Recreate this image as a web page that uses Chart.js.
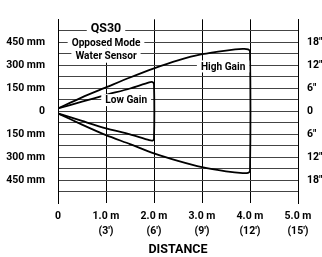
<!DOCTYPE html>
<html>
<head>
<meta charset="utf-8">
<script src="https://cdn.jsdelivr.net/npm/chart.js@4"></script>
<style>
  html, body { margin: 0; padding: 0; background: #fff; }
  canvas { display: block; }
</style>
</head>
<body>
<canvas id="myChart" width="322" height="257"></canvas>
<script>
const ctx = document.getElementById("myChart");

// beam pattern, distance in m, half-width in mm
const highGainX = [0, 0.5, 1.0, 1.5, 2.0, 2.5, 3.0, 3.5, 3.85, 3.96, 4.0, 4.0, 3.96, 3.85, 3.5, 3.0, 2.5, 2.0, 1.5, 1.0, 0.5, 0];
const highGainY = [18, 90, 155, 220, 280, 332, 372, 396, 407, 404, 390, -390, -403, -405, -393, -366, -325, -276, -215, -157, -88, -15];
const lowGainX = [0, 0.5, 1.0, 1.5, 1.9, 1.97, 2.0, 2.0, 1.97, 1.9, 1.5, 1.0, 0.5, 0];
const lowGainY = [18, 62, 106, 148, 188, 190, 178, -180, -192, -190, -152, -112, -64, -15];

const xTickLabels = [["0", ""], ["1.0 m", "(3')"], ["2.0 m", "(6')"], ["3.0 m", "(9')"], ["4.0 m", "(12')"], ["5.0 m", "(15')"]];
const yTickValues = [450, 300, 150, 0, -150, -300, -450];
const leftTickLabels = ["450 mm", "300 mm", "150 mm", "0", "150 mm", "300 mm", "450 mm"];
const rightTickLabels = ['18"', '12"', '6"', "0", '6"', '12"', '18"'];

const FONT = 'Roboto, "Liberation Sans", Arial, sans-serif';

function toPoints(xs, ys) {
  return xs.map((x, i) => ({ x: x, y: ys[i] }));
}

function yLabel(list) {
  return (v) => {
    const i = yTickValues.indexOf(v);
    return i >= 0 ? list[i] : "";
  };
}

// boxed text notes sitting on the grid
const notes = [
  { text: "QS30", x: 1.0, y: 545, size: 13.5, h: 18 },
  { text: "Opposed Mode", x: 1.0, y: 450, size: 11, h: 13 },
  { text: "Water Sensor", x: 1.0, y: 362, size: 11, h: 14 },
  { text: "Low Gain", x: 1.42, y: 72, size: 11, h: 12 },
  { text: "High Gain", x: 3.44, y: 292, size: 11, h: 12 },
];

const notePlugin = {
  id: "notes",
  afterDatasetsDraw(chart) {
    const c = chart.ctx;
    const xs = chart.scales.x;
    const ys = chart.scales.y;
    const squeeze = 0.92;
    c.save();
    notes.forEach((n) => {
      const px = xs.getPixelForValue(n.x);
      const py = ys.getPixelForValue(n.y);
      c.font = "bold " + n.size + "px " + FONT;
      const w = c.measureText(n.text).width * squeeze;
      c.fillStyle = "#fff";
      c.fillRect(px - w / 2 - 4, py - n.h / 2, w + 8, n.h);
      c.save();
      c.translate(px, py + 0.5);
      c.scale(squeeze, 1);
      c.fillStyle = "#000";
      c.textAlign = "center";
      c.textBaseline = "middle";
      c.fillText(n.text, 0, 0);
      c.restore();
    });
    c.restore();
  },
};

new Chart(ctx, {
  type: "scatter",
  data: {
    datasets: [
      {
        label: "High Gain",
        data: toPoints(highGainX, highGainY),
        showLine: true,
        borderColor: "#000",
        borderWidth: 1.8,
        pointRadius: 0,
        tension: 0.25,
      },
      {
        label: "Low Gain",
        data: toPoints(lowGainX, lowGainY),
        showLine: true,
        borderColor: "#000",
        borderWidth: 1.8,
        pointRadius: 0,
        tension: 0.25,
      },
    ],
  },
  options: {
    responsive: false,
    animation: false,
    layout: { padding: { top: 12, left: 0, right: 0, bottom: 0 } },
    plugins: {
      legend: { display: false },
      tooltip: { enabled: false },
    },
    scales: {
      x: {
        type: "linear",
        min: 0,
        max: 5,
        border: { display: false },
        grid: { color: "#000", lineWidth: 1, drawTicks: false },
        ticks: {
          stepSize: 1,
          padding: 6,
          color: "#000",
          font: { family: FONT, weight: "bold", size: 10.5, lineHeight: 1.45 },
          callback: (v) => xTickLabels[v],
        },
        title: {
          display: true,
          text: "DISTANCE",
          color: "#000",
          font: { family: FONT, weight: "bold", size: 12.5 },
          padding: { top: 0, bottom: 0 },
        },
        afterFit: (s) => { s.height = 54; },
      },
      y: {
        position: "left",
        min: -600,
        max: 600,
        border: { display: true, color: "#000", width: 1 },
        grid: {
          drawTicks: false,
          lineWidth: 1,
          color: (c) => (Math.abs(c.tick.value) === 600 ? "rgba(0,0,0,0)" : "#444"),
        },
        ticks: {
          stepSize: 75,
          autoSkip: false,
          padding: 13,
          color: "#000",
          font: { family: FONT, weight: "bold", size: 10.5 },
          callback: yLabel(leftTickLabels),
        },
        afterFit: (s) => { s.width = 58; },
      },
      y2: {
        position: "right",
        min: -600,
        max: 600,
        border: { display: true, color: "#000", width: 1 },
        grid: { drawOnChartArea: false, drawTicks: false },
        ticks: {
          stepSize: 75,
          autoSkip: false,
          padding: 9,
          color: "#000",
          font: { family: FONT, weight: "bold", size: 10.5 },
          callback: yLabel(rightTickLabels),
        },
        afterFit: (s) => { s.width = 24; },
      },
    },
  },
  plugins: [notePlugin],
});
</script>
</body>
</html>
